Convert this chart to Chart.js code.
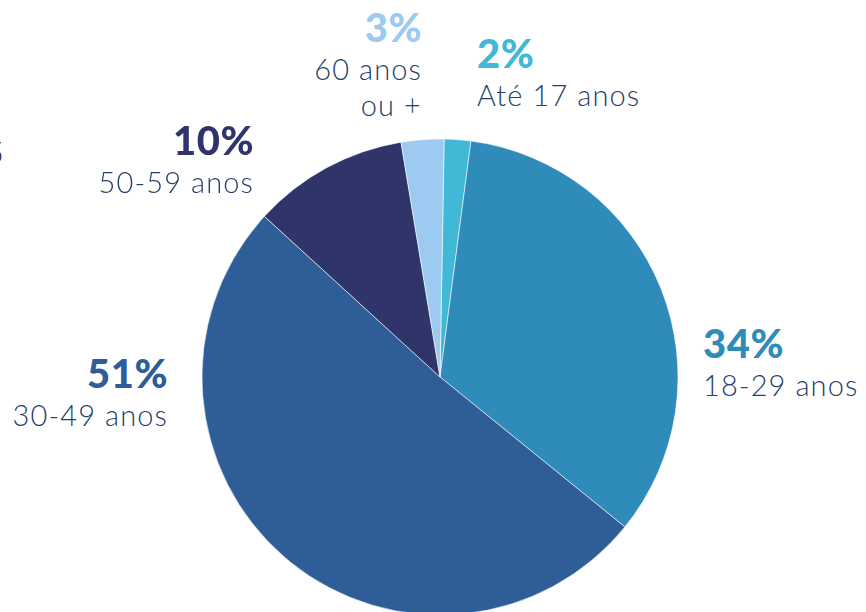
<!DOCTYPE html>
<html>
<head>
<meta charset="utf-8">
<script src="https://cdn.jsdelivr.net/npm/chart.js@4.4.1/dist/chart.umd.min.js"></script>
<style>
    html, body { margin: 0; padding: 0; background: #ffffff; }
    body { width: 866px; height: 612px; overflow: hidden; position: relative; font-family: "Lato", sans-serif; }
    #pieBox { position: absolute; left: 190px; top: 127px; width: 500px; height: 500px; }
    .lbl { position: absolute; white-space: nowrap; line-height: 1; }
    .pct { font-weight: 900; font-size: 40px; letter-spacing: 0.5px; }
    .cat { font-weight: 300; font-size: 29px; color: #263f6a; letter-spacing: 1.1px; }
    .right { text-align: right; }
</style>
</head>
<body>
<div id="pieBox"><canvas id="ageChart"></canvas></div>
<div id="labels"></div>

<script>
// Age groups, clockwise from the top
const categories = ["Até 17 anos", "18-29 anos", "30-49 anos", "50-59 anos", "60 anos\nou +"];
const pctLabels = ["2%", "34%", "51%", "10%", "3%"];
const values = [1.8, 33.8, 51.0, 10.6, 2.9];
const colors = ["#40b8d6", "#2e8bba", "#2e5d97", "#2f356b", "#9ccaf0"];

// label placement (anchor x, top of percent line, alignment)
const labelLayout = [
    { x: 477, y: 33, align: "left" },
    { x: 703, y: 323, align: "left" },
    { x: 168, y: 353, align: "right" },
    { x: 254, y: 120, align: "right" },
    { x: 422, y: 7, align: "right" }
];

document.addEventListener("DOMContentLoaded", function () {
    setupChart();
    drawLabels();
});

function setupChart() {
    let ctx = document.getElementById("ageChart").getContext("2d");
    new Chart(ctx, {
        type: "pie",
        data: {
            labels: categories,
            datasets: [{
                data: values,
                backgroundColor: colors,
                borderColor: "rgba(255,255,255,0.7)",
                borderWidth: 0.8
            }]
        },
        options: {
            responsive: true,
            maintainAspectRatio: false,
            animation: false,
            rotation: 1,
            radius: 238,
            layout: { padding: 0 },
            plugins: {
                legend: { display: false },
                tooltip: { enabled: false }
            }
        }
    });
}

function drawLabels() {
    let holder = document.getElementById("labels");
    categories.forEach(function (name, i) {
        let pos = labelLayout[i];
        let box = document.createElement("div");
        box.className = "lbl" + (pos.align === "right" ? " right" : "");
        box.style.top = pos.y + "px";
        if (pos.align === "right") {
            box.style.right = (866 - pos.x) + "px";
        } else {
            box.style.left = pos.x + "px";
        }
        let pct = document.createElement("div");
        pct.className = "pct";
        pct.style.color = colors[i];
        pct.textContent = pctLabels[i];
        box.appendChild(pct);
        name.split("\n").forEach(function (line) {
            let row = document.createElement("div");
            row.className = "cat";
            row.style.marginTop = "7px";
            row.textContent = line;
            box.appendChild(row);
        });
        holder.appendChild(box);
    });

    // cut-off glyph at the left edge
    let stray = document.createElement("div");
    stray.className = "lbl cat right";
    stray.style.right = (866 - 4) + "px";
    stray.style.top = "136px";
    stray.style.fontSize = "32px";
    stray.style.letterSpacing = "0";
    stray.textContent = "5";
    holder.appendChild(stray);
}
</script>
</body>
</html>
